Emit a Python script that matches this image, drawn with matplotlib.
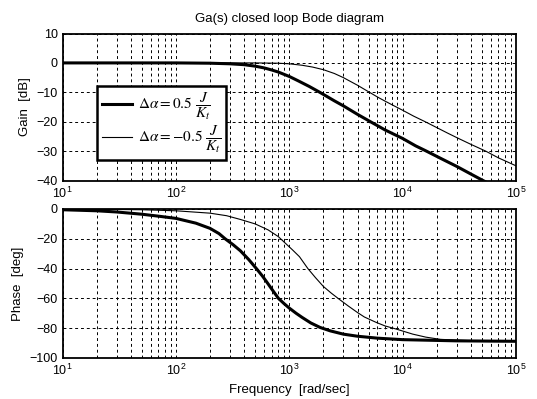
import numpy as np
import matplotlib
matplotlib.use("Agg")
import matplotlib.pyplot as plt
from matplotlib.lines import Line2D

plt.rcParams['font.family'] = ['Liberation Sans', 'DejaVu Sans']
plt.rcParams['mathtext.fontset'] = 'stix'

# gain curves
freq_gain_pos = [10, 100, 200, 300, 400, 500, 600, 700, 800, 1000, 1200, 1500, 1860, 2500, 3000,
                 4000, 5200, 7000, 10000, 13000, 16200, 22000, 30000, 40000, 50000, 100000]
gain_pos = [0, 0, -0.1, -0.3, -0.6, -1.1, -1.7, -2.4, -3.1, -4.6, -6.1, -8.0, -10, -12.9, -14.6,
            -17.5, -20, -22.8, -25.7, -28.2, -30, -32.6, -35.2, -37.8, -39.8, -45.8]

freq_gain_neg = [10, 500, 800, 1000, 1300, 1600, 2000, 2500, 3000, 4000, 5000, 6000, 7000, 8500,
                 10000, 12500, 15800, 20000, 25000, 30000, 40000, 54000, 70000, 100000]
gain_neg = [0, 0, -0.1, -0.3, -0.8, -1.4, -2.3, -3.6, -5.0, -7.6, -9.8, -11.6, -13.0, -14.7,
            -16.1, -18.1, -20, -22.0, -23.9, -25.4, -27.7, -30, -32.3, -35]

# phase curves
freq_ph_pos = [10, 20, 30, 50, 70, 100, 150, 200, 240, 272, 320, 370, 440, 513, 580, 640, 720, 803,
               900, 1000, 1150, 1300, 1550, 1870, 2300, 3000, 4000, 6000, 10000, 30000, 100000]
phase_pos = [-0.5, -1.2, -2, -3.5, -4.8, -6.3, -9.5, -13, -16.5, -20, -24, -28, -34, -40, -45, -49.5,
             -55, -60, -63.5, -66.5, -70, -72.8, -76.5, -79.5, -81.8, -84, -85.4, -86.7, -87.7, -88.5, -88.8]

freq_ph_neg = [10, 50, 100, 200, 280, 370, 500, 650, 800, 925, 1070, 1230, 1460, 1700, 2000, 2350,
               2750, 3300, 4000, 4600, 5800, 7000, 8700, 12300, 16000, 21500, 40000, 100000]
phase_neg = [0, -0.5, -1.2, -2.8, -4.5, -7, -10, -14, -18.5, -23, -27.5, -32, -40, -46, -52, -56.5,
             -60.5, -65, -69.5, -72.5, -76, -78.5, -80.5, -84, -86, -87.5, -88.4, -88.8]

gain_ticks = [10, 0, -10, -20, -30, -40]
phase_ticks = [0, -20, -40, -60, -80, -100]

label_pos = r'$\mathit{\Delta\alpha} = 0.5\ \dfrac{J}{K_t}$'
label_neg = r'$\mathit{\Delta\alpha} = -0.5\ \dfrac{J}{K_t}$'

fig = plt.figure(figsize=(5.37, 3.99), dpi=100)
ax1 = fig.add_axes([0.1164, 0.5476, 0.8445, 0.3684])
ax2 = fig.add_axes([0.1164, 0.1028, 0.8445, 0.3734])

grid_kw = dict(color='black', linestyle=(0, (3, 3)), linewidth=0.7)

def style_axis(ax, ticks):
    ax.set_xscale('log')
    ax.set_xlim(10, 1e5)
    ax.set_ylim(min(ticks), max(ticks))
    ax.set_yticks(ticks)
    ax.grid(True, which='both', axis='x', **grid_kw)
    ax.grid(True, which='major', axis='y', **grid_kw)
    ax.tick_params(which='both', direction='in', length=0, labelsize=9)
    for s in ax.spines.values():
        s.set_linewidth(1.3)
        s.set_color('black')

# gain plot
ax1.plot(freq_gain_pos, gain_pos, color='black', linewidth=2.2)
ax1.plot(freq_gain_neg, gain_neg, color='black', linewidth=0.8)
style_axis(ax1, gain_ticks)
ax1.set_ylabel('Gain  [dB]', fontsize=9.5)
ax1.set_title('Ga(s) closed loop Bode diagram', fontsize=9.5, pad=8)

handles = [Line2D([], [], color='black', linewidth=2.2),
           Line2D([], [], color='black', linewidth=0.8)]
leg = ax1.legend(handles, [label_pos, label_neg], loc='upper left',
                 bbox_to_anchor=(0.076, 0.64), borderaxespad=0,
                 fontsize=11, frameon=True, fancybox=False, framealpha=1,
                 borderpad=0.3, handlelength=2.0, handletextpad=0.4, labelspacing=0.15)
leg.get_frame().set_edgecolor('black')
leg.get_frame().set_linewidth(1.8)

# phase plot
ax2.plot(freq_ph_pos, phase_pos, color='black', linewidth=2.2)
ax2.plot(freq_ph_neg, phase_neg, color='black', linewidth=0.8)
style_axis(ax2, phase_ticks)
ax2.set_ylabel('Phase  [deg]', fontsize=9.5)
ax2.set_xlabel('Frequency  [rad/sec]', fontsize=9.5)

fig.savefig('out.png', dpi=100)
